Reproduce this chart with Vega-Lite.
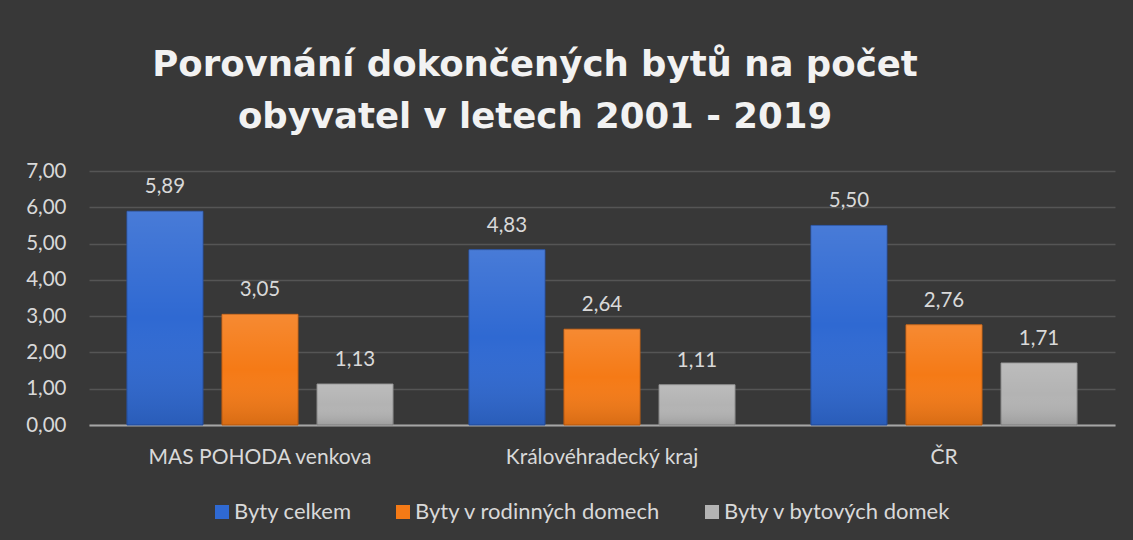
{
  "$schema": "https://vega.github.io/schema/vega-lite/v6.json",
  "autosize": "none",
  "width": 1026,
  "height": 254,
  "padding": {"left": 89, "top": 171, "right": 18, "bottom": 115},
  "background": "#383838",
  "title": {
    "text": ["Porovnání dokončených bytů na počet", "obyvatel v letech 2001 - 2019"],
    "font": "DejaVu Sans",
    "fontWeight": "bold",
    "fontSize": 35.5,
    "lineHeight": 52,
    "color": "#f2f2f2",
    "anchor": "middle",
    "frame": "group",
    "dx": -67,
    "offset": 26
  },
  "config": {
    "locale": {"number": {"decimal": ",", "thousands": " ", "grouping": [3], "currency": ["", " Kč"]}},
    "view": {"stroke": null},
    "font": "Lato"
  },
  "data": {
    "values": [
      {"region": "MAS POHODA venkova", "series": "Byty celkem", "value": 5.89},
      {"region": "MAS POHODA venkova", "series": "Byty v rodinných domech", "value": 3.05},
      {"region": "MAS POHODA venkova", "series": "Byty v bytových domek", "value": 1.13},
      {"region": "Královéhradecký kraj", "series": "Byty celkem", "value": 4.83},
      {"region": "Královéhradecký kraj", "series": "Byty v rodinných domech", "value": 2.64},
      {"region": "Královéhradecký kraj", "series": "Byty v bytových domek", "value": 1.11},
      {"region": "ČR", "series": "Byty celkem", "value": 5.5},
      {"region": "ČR", "series": "Byty v rodinných domech", "value": 2.76},
      {"region": "ČR", "series": "Byty v bytových domek", "value": 1.71}
    ]
  },
  "encoding": {
    "x": {
      "field": "region",
      "type": "nominal",
      "sort": ["MAS POHODA venkova", "Královéhradecký kraj", "ČR"],
      "scale": {"paddingInner": 0.222, "paddingOuter": 0.111},
      "axis": {
        "title": null,
        "labelAngle": 0,
        "labelFont": "Lato",
        "labelFontSize": 21,
        "labelColor": "#d9d9d9",
        "labelPadding": 21,
        "labelLimit": 0,
        "ticks": false,
        "domainColor": "#a6a6a6",
        "domainWidth": 2,
        "grid": false
      }
    },
    "xOffset": {
      "field": "series",
      "sort": ["Byty celkem", "Byty v rodinných domech", "Byty v bytových domek"],
      "scale": {"paddingInner": 0.2, "paddingOuter": 0}
    },
    "y": {
      "field": "value",
      "type": "quantitative",
      "scale": {"domain": [0, 7]},
      "axis": {
        "title": null,
        "format": ".2f",
        "values": [0, 1, 2, 3, 4, 5, 6, 7],
        "labelOverlap": false,
        "labelFont": "Lato",
        "labelFontSize": 20.5,
        "labelColor": "#d9d9d9",
        "labelPadding": 23,
        "ticks": false,
        "domain": false,
        "gridColor": "#555555",
        "gridWidth": 1.5
      }
    }
  },
  "layer": [
    {
      "mark": {"type": "bar", "strokeWidth": 1},
      "encoding": {
        "color": {
          "field": "series",
          "type": "nominal",
          "sort": ["Byty celkem", "Byty v rodinných domech", "Byty v bytových domek"],
          "scale": {
            "domain": ["Byty celkem", "Byty v rodinných domech", "Byty v bytových domek"],
            "range": ["#2f69d2", "#f57a16", "#b3b3b3"]
          },
          "legend": {
            "title": null,
            "orient": "none",
            "legendX": 122,
            "legendY": 330,
            "direction": "horizontal",
            "symbolType": "square",
            "symbolSize": 196,
            "symbolStrokeWidth": 0,
            "labelFont": "Lato",
            "labelFontSize": 22,
            "labelColor": "#d9d9d9",
            "labelOffset": 1,
            "labelLimit": 0,
            "columnPadding": 40
          }
        },
        "stroke": {
          "field": "series",
          "type": "nominal",
          "scale": {
            "domain": ["Byty celkem", "Byty v rodinných domech", "Byty v bytových domek"],
            "range": ["#2552a8", "#c8600f", "#8c8c8c"]
          },
          "legend": null
        }
      }
    },
    {
      "mark": {
        "type": "bar",
        "color": {
          "gradient": "linear",
          "x1": 0, "y1": 0, "x2": 0, "y2": 1,
          "stops": [
            {"offset": 0, "color": "rgba(255,255,255,0.12)"},
            {"offset": 0.5, "color": "rgba(255,255,255,0)"},
            {"offset": 1, "color": "rgba(0,0,0,0.12)"}
          ]
        }
      },
      "encoding": {}
    },
    {
      "mark": {"type": "text", "baseline": "bottom", "dy": -14, "font": "Lato", "fontSize": 20.5, "color": "#d9d9d9"},
      "encoding": {
        "text": {"field": "value", "type": "quantitative", "format": ".2f"}
      }
    }
  ]
}
